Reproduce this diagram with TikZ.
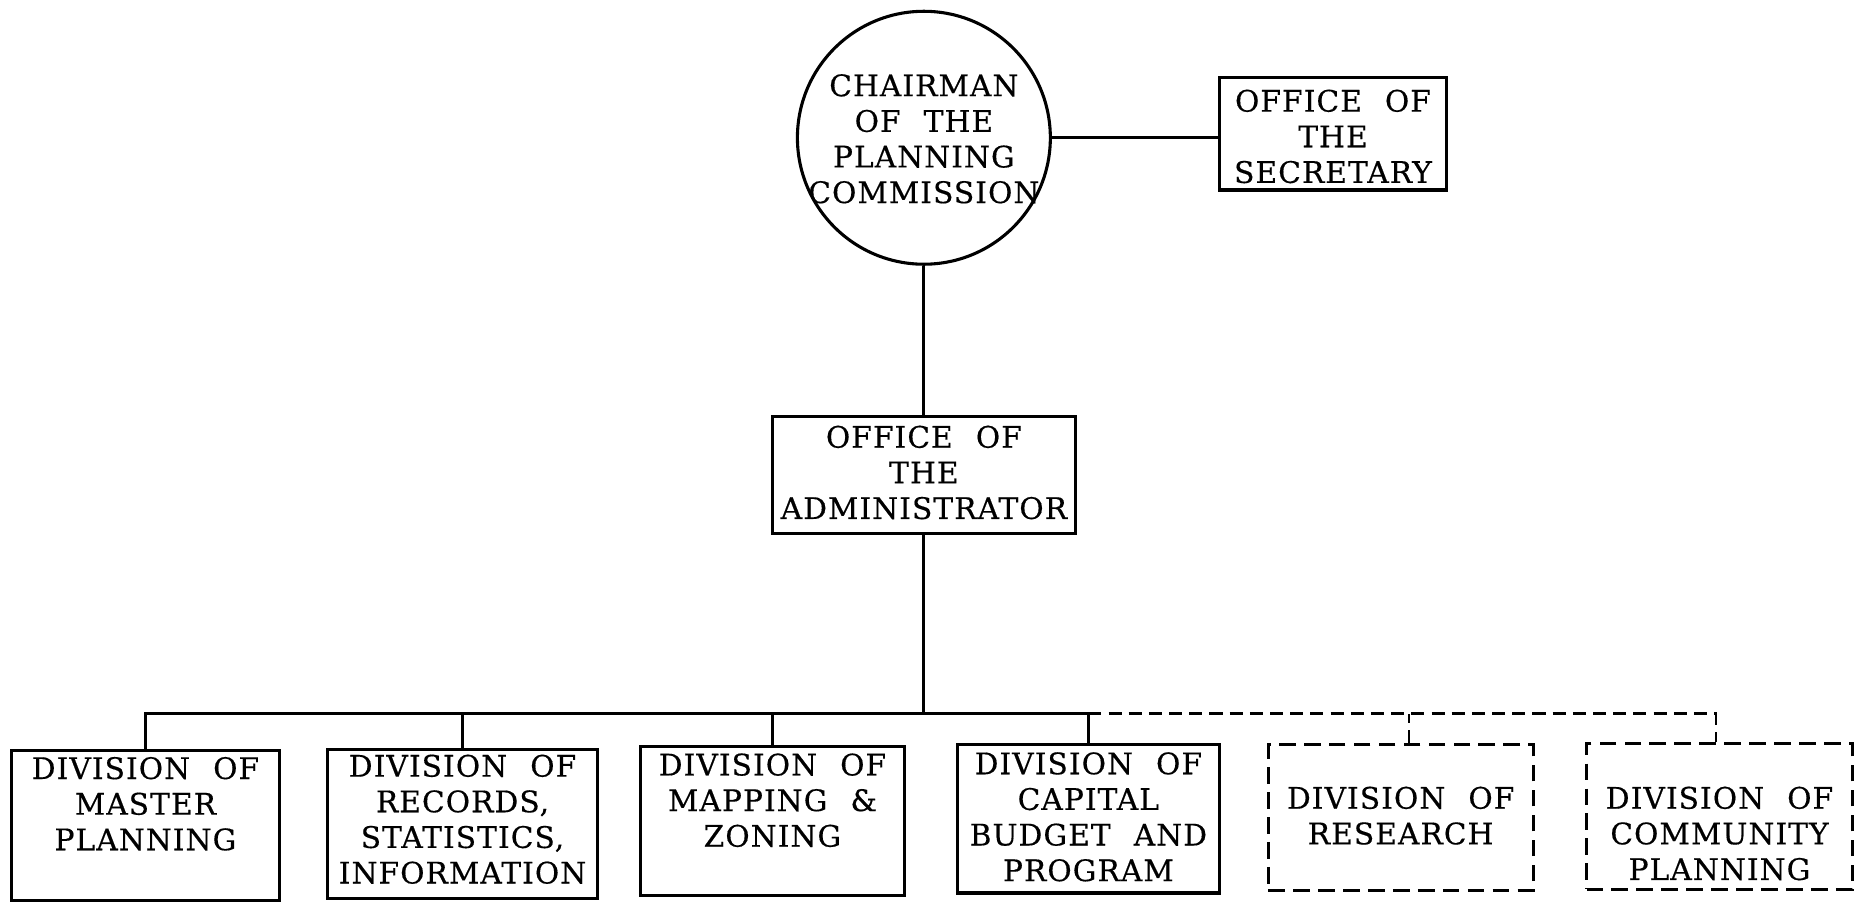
\documentclass[tikz,border=0pt]{standalone}
\usepackage{fontspec}
\newfontfamily\chartfont[LetterSpace=3.5,WordSpace=2.2,FakeBold=0.4]{DejaVu Serif}
\newcommand{\boxtext}[1]{\makebox[0pt]{\begin{tabular}[t]{@{}c@{}}#1\end{tabular}}}

\begin{document}
\begin{tikzpicture}[x=0.5pt, y=-0.5pt,
    unit/.style={draw, line width=1.3pt, inner sep=0pt, text height=0pt,
        font=\chartfont\fontsize{12.5}{15}\selectfont},
    planned/.style={unit, dash pattern=on 7pt off 3.5pt},
    link/.style={line width=1.2pt},
    planlink/.style={link, dash pattern=on 5.5pt off 3pt}]
\useasboundingbox (0,0) rectangle (1568,760);
% top of the chart
\node[unit, circle, minimum size=106.5pt, text depth=35pt] (chair) at (778,116)
    {\boxtext{CHAIRMAN\\ OF THE\\ PLANNING\\ COMMISSION}};
\node[unit, minimum width=95.5pt, minimum height=47.5pt, text depth=18.5pt] (secretary) at (1122.5,112.5)
    {\boxtext{OFFICE OF\\ THE\\ SECRETARY}};
\node[unit, minimum width=127.5pt, minimum height=49pt, text depth=23pt] (admin) at (778,400)
    {\boxtext{OFFICE OF\\ THE\\ ADMINISTRATOR}};
% divisions
\node[unit, minimum width=112.5pt, minimum height=63pt, text depth=39pt] (master) at (122.5,695)
    {\boxtext{DIVISION OF\\ MASTER\\ PLANNING}};
\node[unit, minimum width=113.5pt, minimum height=63pt, text depth=40pt] (records) at (389.5,694)
    {\boxtext{DIVISION OF\\ RECORDS,\\ STATISTICS,\\ INFORMATION}};
\node[unit, minimum width=111pt, minimum height=62.5pt, text depth=38.5pt] (mapping) at (650.5,691.5)
    {\boxtext{DIVISION OF\\ MAPPING \&\\ ZONING}};
\node[unit, minimum width=110.5pt, minimum height=62.5pt, text depth=37.5pt] (capital) at (916.5,689.5)
    {\boxtext{DIVISION OF\\ CAPITAL\\ BUDGET AND\\ PROGRAM}};
\node[planned, minimum width=111.5pt, minimum height=61.5pt, text depth=7.5pt] (research) at (1179.5,688.5)
    {\boxtext{DIVISION OF\\ RESEARCH}};
\node[planned, minimum width=112pt, minimum height=61.5pt, text depth=6.5pt] (community) at (1448,687.5)
    {\boxtext{DIVISION OF\\ COMMUNITY\\ PLANNING}};
% lines
\coordinate (bus) at (admin.south |- 0,601);
\coordinate (resdrop) at ([xshift=3.5pt]research.north);
\coordinate (comdrop) at ([xshift=-1.5pt]community.north);
\draw[link] (chair.east) -- (chair.east -| secretary.west);
\draw[link] (chair.south) -- (admin.north);
\draw[link] (admin.south) -- (bus);
\draw[link] (master.north) |- (capital.north |- bus) -- (capital.north);
\draw[link] (records.north) -- (records.north |- bus);
\draw[link] (mapping.north) -- (mapping.north |- bus);
\draw[planlink] (capital.north |- bus) -| (comdrop);
\draw[planlink] (resdrop) -- (resdrop |- bus);
\end{tikzpicture}
\end{document}
